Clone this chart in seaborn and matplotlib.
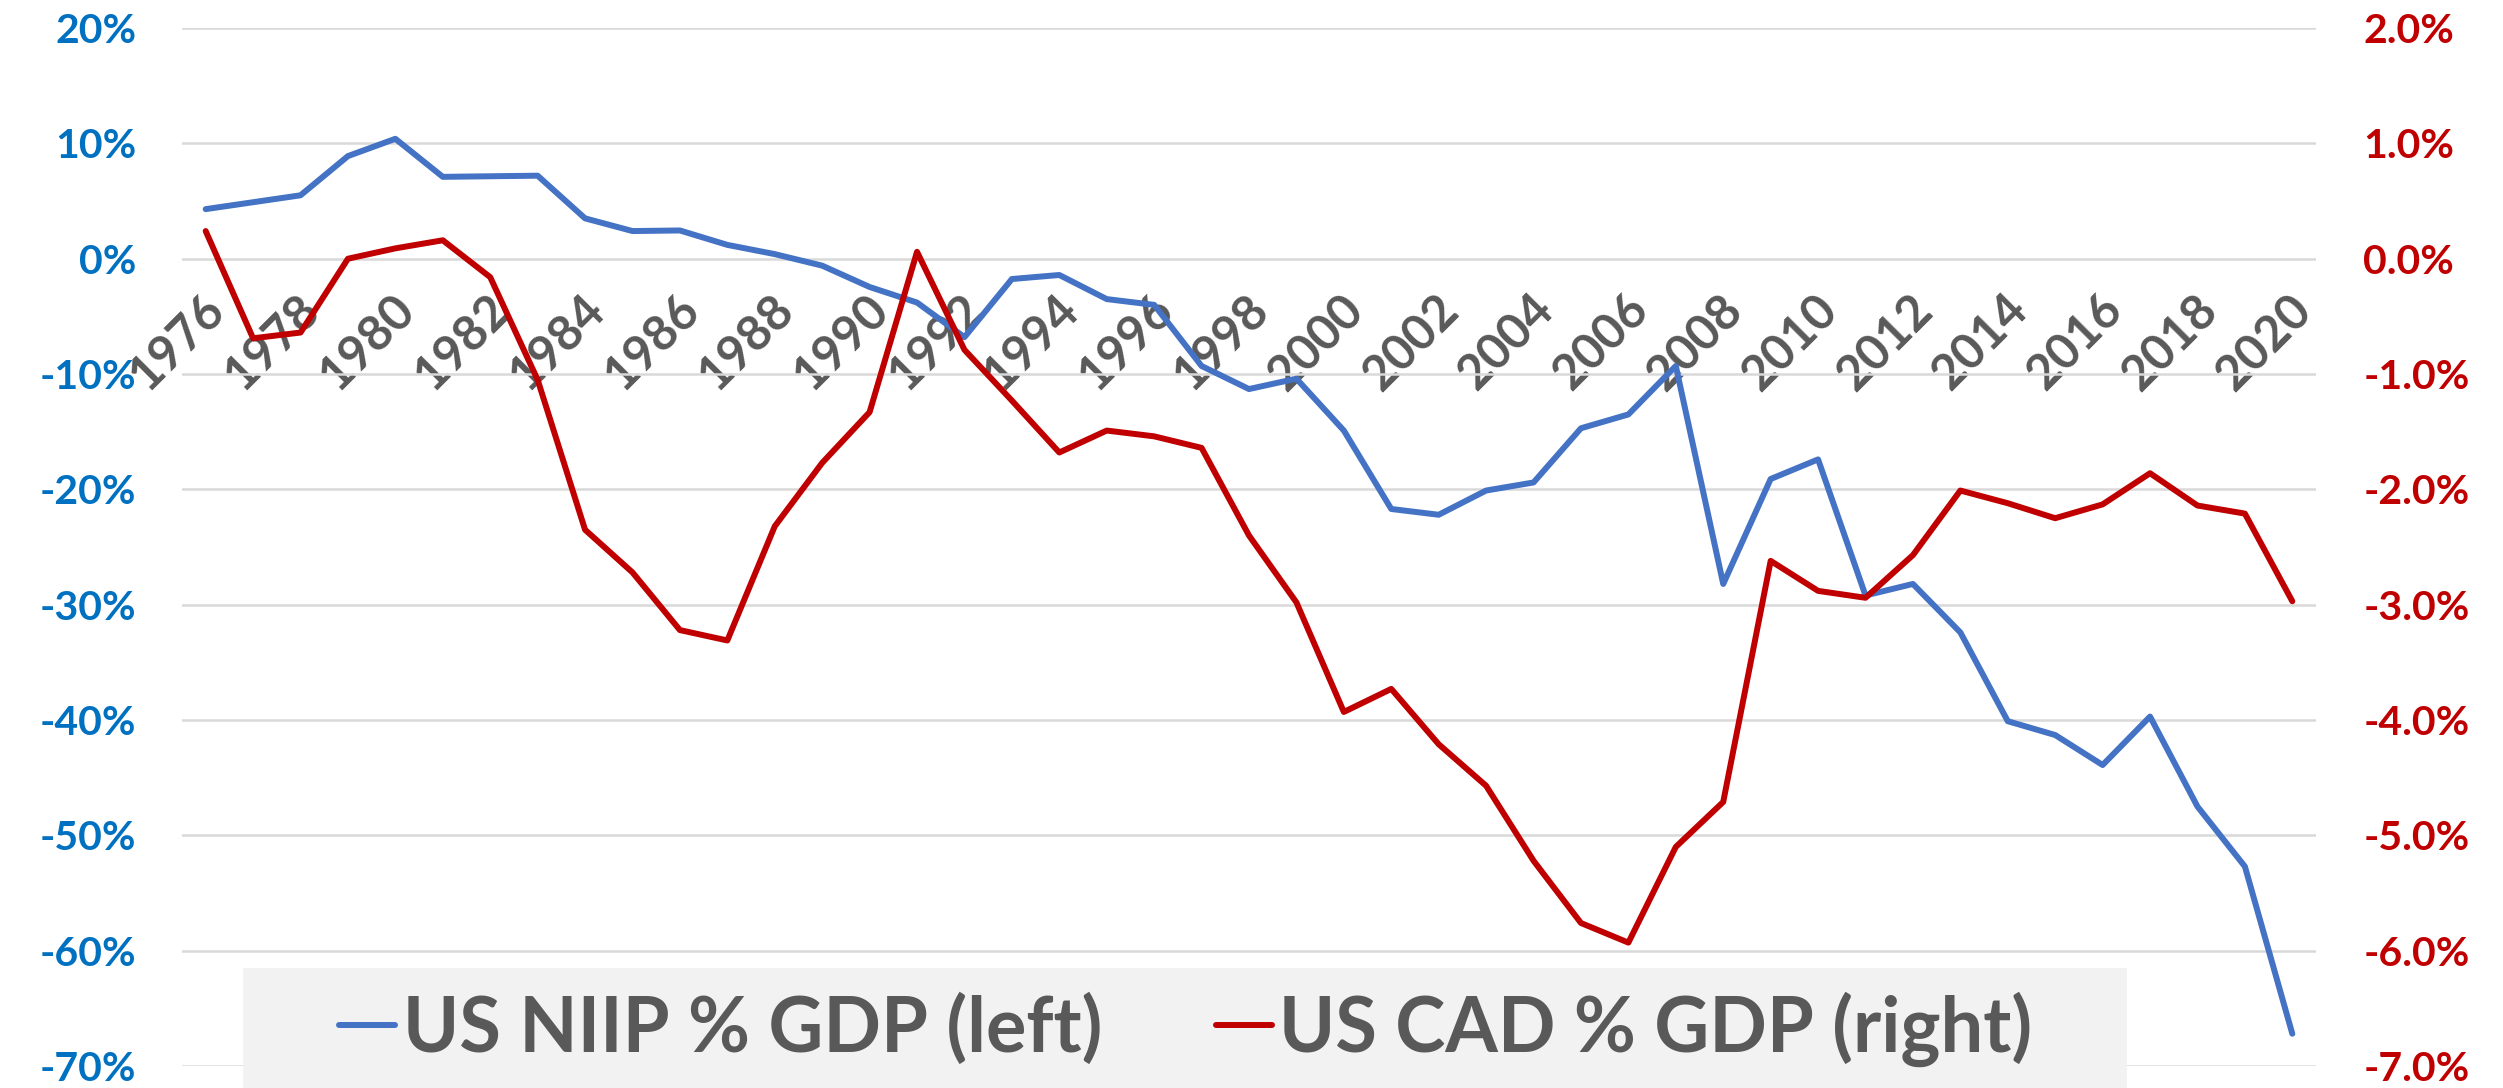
"""
US net international investment position vs current account balance,
both as a share of GDP, on twin y axes.
"""

import matplotlib

matplotlib.use("Agg")
import matplotlib.pyplot as plt
import matplotlib.transforms as mtransforms
from matplotlib.lines import Line2D
from matplotlib.patches import Rectangle
import pandas as pd
import seaborn as sns

years = list(range(1976, 2021))

# US NIIP, % of GDP (left axis)
niip_pct_gdp = [
    4.3, 4.9, 5.5, 8.9, 10.4, 7.1, 7.15, 7.2, 3.5, 2.4,
    2.45, 1.2, 0.4, -0.6, -2.45, -3.8, -6.8, -1.76, -1.41, -3.5,
    -4.0, -9.3, -11.3, -10.4, -14.9, -21.7, -22.2, -20.1, -19.4, -14.7,
    -13.5, -9.3, -28.2, -19.1, -17.4, -29.2, -28.2, -32.4, -40.1, -41.3,
    -43.9, -39.7, -47.5, -52.7, -67.2,
]

# US current account balance, % of GDP (right axis)
cad_pct_gdp = [
    0.24, -0.69, -0.64, 0.0, 0.09, 0.16, -0.16, -1.05, -2.35, -2.72,
    -3.22, -3.31, -2.32, -1.77, -1.33, 0.06, -0.79, -1.23, -1.68, -1.49,
    -1.54, -1.64, -2.40, -2.98, -3.93, -3.73, -4.21, -4.57, -5.22, -5.76,
    -5.93, -5.10, -4.71, -2.62, -2.88, -2.94, -2.57, -2.01, -2.12, -2.25,
    -2.13, -1.86, -2.14, -2.21, -2.97,
]

left_ticks = [20, 10, 0, -10, -20, -30, -40, -50, -60, -70]
right_ticks = [2, 1, 0, -1, -2, -3, -4, -5, -6, -7]
year_ticks = years[::2]
series_labels = ["US NIIP % GDP (left)", "US CAD % GDP (right)"]

BLUE = "#4472C4"
RED = "#C00000"
LEFT_TXT = "#0070C0"
GREY_TXT = "#595959"
GRID = "#D9D9D9"


def main():
    sns.set_theme(style="white")
    plt.rcParams["font.family"] = ["Lato", "DejaVu Sans"]
    plt.rcParams["font.weight"] = "bold"

    df = pd.DataFrame({"Year": years, "NIIP": niip_pct_gdp, "CAD": cad_pct_gdp})

    fig = plt.figure(figsize=(25.03, 10.88), dpi=100)
    ax = fig.add_axes([0.0727, 0.0202, 0.8526, 0.954])
    ax2 = ax.twinx()

    sns.lineplot(data=df, x="Year", y="NIIP", ax=ax, color=BLUE, linewidth=4.3)
    sns.lineplot(data=df, x="Year", y="CAD", ax=ax2, color=RED, linewidth=4.3)
    for line in ax.get_lines() + ax2.get_lines():
        line.set_linewidth(4.3)
        line.set_solid_joinstyle("round")

    ax.set_xlim(1975.5, 2020.5)
    ax.set_ylim(-70, 20)
    ax2.set_ylim(-7, 2)

    ax.set_yticks(left_ticks)
    ax.set_yticklabels([f"{v}%" for v in left_ticks])
    ax2.set_yticks(right_ticks)
    ax2.set_yticklabels([f"{v:.1f}%" for v in right_ticks])

    ax.grid(axis="y", color=GRID, lw=1.8)
    ax.grid(axis="x", visible=False)
    ax.set_axisbelow(True)

    for a in (ax, ax2):
        a.set_xlabel("")
        a.set_ylabel("")
        for s in a.spines.values():
            s.set_visible(False)

    ax.tick_params(axis="y", length=0, pad=33, labelsize=29.5, labelcolor=LEFT_TXT)
    ax2.tick_params(axis="y", length=0, pad=34, labelsize=29.5, labelcolor=RED)

    # category labels hang off the 0% line
    ax.spines["bottom"].set_position(("data", 0))
    ax.set_xticks(year_ticks)
    ax.set_xticklabels([str(y) for y in year_ticks])
    ax.tick_params(axis="x", length=0, pad=20, labelsize=35, labelcolor=GREY_TXT)
    shift = mtransforms.ScaledTranslation(-4 / 100, 0, fig.dpi_scale_trans)
    for lab in ax.get_xticklabels():
        lab.set_rotation(45)
        lab.set_ha("right")
        lab.set_va("top")
        lab.set_rotation_mode("anchor")
        lab.set_transform(lab.get_transform() + shift)

    # grey legend band across the bottom
    fig.patches.append(
        Rectangle(
            (0.0971, -0.02), 0.7527, 0.13,
            transform=fig.transFigure, facecolor="#F2F2F2",
            edgecolor="none", zorder=5,
        )
    )
    handles = [
        Line2D([], [], color=BLUE, lw=4.3, solid_capstyle="round"),
        Line2D([], [], color=RED, lw=4.3, solid_capstyle="round"),
    ]
    leg = fig.legend(
        handles, series_labels, loc="center", bbox_to_anchor=(0.4738, 0.054),
        ncol=2, frameon=False, fontsize=54.5, handlelength=0.74,
        handletextpad=0.1, columnspacing=1.5, labelcolor=GREY_TXT,
    )
    leg.set_zorder(6)

    fig.savefig("out.png", dpi=100)
    plt.close(fig)


if __name__ == "__main__":
    main()
